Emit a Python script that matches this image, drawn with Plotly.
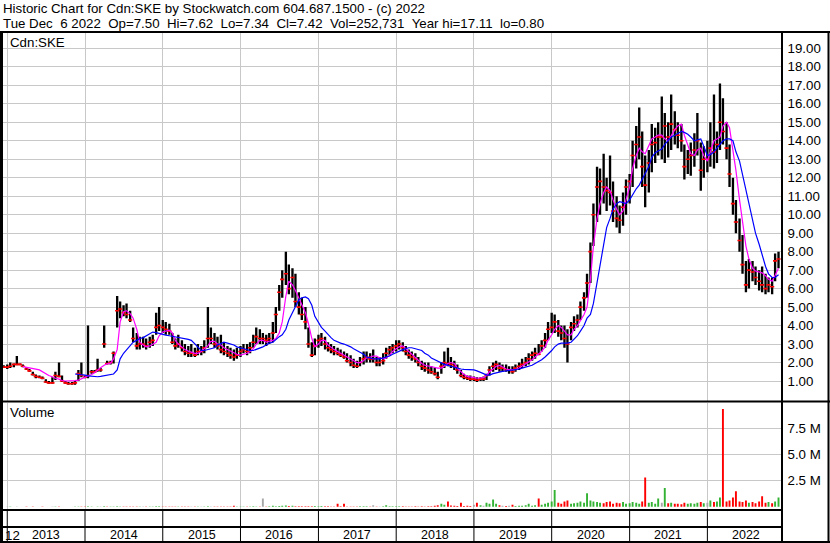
import plotly.graph_objects as go
import pandas as pd

W, H = 830, 543


def px(x):
    return x / W


def py(y):
    return 1 - y / H


# ---------------- data (semi-monthly samples, 1st & 15th) ----------------
# dates: 2012-12-15 ... 2022-12-01
dates = pd.date_range("2012-12-15", "2022-12-01", freq="SMS")

high = (
    [1.85]
    + [1.9, 2.0, 1.95, 2.35, 1.95, 1.9, 1.75, 1.65, 1.5, 1.35, 1.3, 1.25, 1.1, 1.0, 1.2, 1.5, 2.0, 1.3, 1.0, 0.95, 0.95, 1.0, 1.6, 2.0]
    + [1.3, 4.0, 1.6, 1.6, 2.2, 1.7, 4.0, 2.1, 2.1, 2.6, 5.6, 5.3, 5.1, 5.2, 4.8, 3.9, 3.6, 3.4, 3.4, 3.3, 3.4, 3.5, 4.7, 5.0]
    + [4.3, 4.2, 4.1, 3.6, 3.3, 3.5, 3.2, 3.0, 2.9, 3.0, 2.8, 3.0, 2.9, 3.2, 5.0, 3.9, 3.6, 3.4, 3.5, 3.1, 2.9, 2.8, 2.7, 2.8]
    + [2.9, 3.0, 3.0, 3.1, 3.5, 3.9, 3.8, 3.6, 3.5, 3.6, 4.2, 5.0, 6.2, 7.0, 8.0, 7.3, 7.1, 6.8, 5.8, 5.5, 5.0, 3.9, 3.1, 3.3]
    + [3.5, 3.6, 3.4, 3.1, 3.0, 2.9, 2.8, 2.7, 2.6, 2.5, 2.4, 2.2, 2.1, 2.3, 2.6, 2.6, 2.5, 2.7, 2.3, 2.3, 2.5, 2.8, 2.9, 3.0]
    + [3.2, 3.2, 3.1, 2.9, 2.7, 2.6, 2.5, 2.3, 2.1, 2.0, 2.0, 1.8, 1.7, 1.5, 2.0, 2.6, 2.8, 2.3, 2.1, 1.9, 1.6, 1.4, 1.3, 1.3]
    + [1.25, 1.2, 1.2, 1.25, 1.4, 1.8, 2.0, 2.1, 2.0, 1.9, 1.9, 1.8, 1.8, 1.9, 2.0, 2.2, 2.3, 2.5, 2.6, 2.8, 3.0, 3.2, 3.6, 4.2]
    + [4.7, 4.6, 4.3, 4.0, 4.0, 3.8, 4.2, 4.5, 4.6, 5.3, 5.8, 6.8, 8.5, 10.6, 12.6, 12.5, 13.3, 12.0, 13.2, 11.8, 11.0, 10.5, 11.2, 11.9]
    + [12.2, 14.0, 14.8, 15.8, 14.5, 13.2, 13.5, 14.9, 14.7, 15.0, 16.4, 15.5, 15.0, 16.5, 15.6, 15.0, 14.9, 13.8, 13.5, 13.9, 14.4, 15.5, 13.9, 13.7]
    + [14.0, 15.0, 16.5, 14.5, 17.1, 16.3, 15.0, 13.8, 12.0, 10.8, 9.8, 8.9, 7.5, 7.6, 7.5, 7.2, 7.0, 7.2, 6.8, 6.6, 6.6, 7.9, 8.0]
)

low = (
    [1.70]
    + [1.65, 1.7, 1.75, 1.85, 1.85, 1.75, 1.6, 1.5, 1.3, 1.15, 1.15, 1.1, 0.9, 0.85, 0.85, 1.05, 1.2, 0.95, 0.85, 0.8, 0.8, 0.8, 1.0, 1.2]
    + [1.15, 1.15, 1.4, 1.45, 1.5, 1.5, 2.8, 1.9, 1.9, 1.95, 3.9, 4.4, 4.5, 4.4, 4.2, 3.1, 2.7, 2.7, 2.8, 2.7, 2.8, 2.9, 3.5, 3.7]
    + [3.6, 3.5, 3.5, 3.0, 2.7, 2.8, 2.6, 2.4, 2.3, 2.3, 2.3, 2.4, 2.4, 2.5, 2.8, 3.0, 2.8, 2.7, 2.5, 2.4, 2.3, 2.2, 2.1, 2.2]
    + [2.3, 2.5, 2.4, 2.5, 2.8, 3.0, 3.0, 3.0, 2.9, 3.0, 3.1, 3.6, 4.8, 5.5, 6.2, 5.7, 5.5, 5.0, 4.6, 4.3, 3.8, 2.8, 2.3, 2.4]
    + [2.8, 2.9, 2.7, 2.6, 2.5, 2.4, 2.4, 2.3, 2.2, 2.0, 1.8, 1.7, 1.7, 1.8, 1.9, 2.0, 2.0, 2.0, 1.8, 1.8, 1.9, 2.2, 2.4, 2.5]
    + [2.6, 2.7, 2.6, 2.4, 2.2, 2.1, 2.0, 1.8, 1.6, 1.5, 1.4, 1.4, 1.3, 1.1, 1.4, 1.7, 1.8, 1.7, 1.6, 1.4, 1.2, 1.1, 1.05, 1.0]
    + [1.0, 0.95, 1.0, 1.0, 1.05, 1.3, 1.5, 1.6, 1.5, 1.5, 1.5, 1.4, 1.4, 1.5, 1.6, 1.7, 1.8, 1.9, 2.1, 2.2, 2.4, 2.6, 2.8, 3.2]
    + [3.6, 3.6, 3.4, 3.2, 2.8, 2.0, 3.2, 3.7, 3.9, 4.3, 4.8, 5.5, 6.3, 8.3, 9.6, 10.0, 10.6, 10.2, 10.5, 9.6, 9.3, 9.0, 9.4, 10.0]
    + [10.6, 11.5, 12.5, 13.0, 11.5, 10.4, 11.2, 12.3, 12.8, 13.2, 13.0, 12.8, 13.1, 13.5, 13.8, 13.6, 13.4, 11.9, 12.2, 12.1, 12.6, 13.2, 11.3, 12.0]
    + [12.3, 12.6, 12.5, 12.8, 13.5, 13.8, 13.0, 11.5, 10.0, 9.0, 8.0, 6.8, 5.8, 6.0, 6.4, 6.2, 5.9, 5.8, 5.7, 5.8, 5.7, 6.4, 7.1]
)

close = (
    [1.75]
    + [1.75, 1.8, 1.9, 1.9, 1.9, 1.8, 1.65, 1.55, 1.35, 1.25, 1.2, 1.15, 0.95, 0.9, 0.9, 1.3, 1.25, 1.0, 0.9, 0.85, 0.85, 0.9, 1.4, 1.3]
    + [1.2, 1.3, 1.5, 1.5, 1.6, 1.6, 3.0, 1.95, 2.0, 2.5, 4.8, 4.9, 4.7, 4.6, 4.3, 3.3, 2.9, 3.0, 3.0, 2.9, 3.1, 3.2, 3.9, 4.0]
    + [3.9, 3.8, 3.7, 3.1, 2.9, 3.0, 2.8, 2.6, 2.5, 2.5, 2.4, 2.6, 2.6, 2.8, 3.3, 3.3, 3.0, 2.9, 2.7, 2.6, 2.5, 2.4, 2.3, 2.4]
    + [2.6, 2.7, 2.6, 2.8, 3.1, 3.4, 3.3, 3.3, 3.2, 3.3, 3.6, 4.6, 5.8, 6.5, 6.8, 6.0, 6.6, 5.3, 5.0, 4.6, 4.2, 3.0, 2.4, 2.9]
    + [3.2, 3.3, 3.0, 2.8, 2.7, 2.6, 2.5, 2.4, 2.3, 2.1, 2.0, 1.85, 1.8, 2.0, 2.2, 2.3, 2.2, 2.2, 2.0, 2.0, 2.1, 2.5, 2.7, 2.8]
    + [2.9, 3.0, 2.8, 2.6, 2.4, 2.3, 2.2, 2.0, 1.8, 1.7, 1.6, 1.5, 1.4, 1.2, 1.8, 2.0, 1.95, 1.9, 1.8, 1.6, 1.3, 1.2, 1.15, 1.1]
    + [1.1, 1.05, 1.1, 1.1, 1.3, 1.6, 1.8, 1.9, 1.7, 1.7, 1.6, 1.6, 1.5, 1.7, 1.8, 1.9, 2.0, 2.2, 2.4, 2.5, 2.45, 2.9, 3.2, 3.8]
    + [3.9, 4.2, 3.7, 3.6, 3.3, 3.0, 3.9, 4.1, 4.3, 5.0, 5.5, 6.3, 8.0, 10.0, 11.5, 11.8, 11.5, 11.3, 11.2, 10.2, 9.8, 9.7, 10.4, 11.5]
    + [11.8, 13.2, 13.8, 14.2, 12.6, 11.6, 12.8, 13.8, 13.9, 14.2, 14.2, 14.8, 14.2, 14.9, 14.6, 14.3, 14.0, 12.6, 13.0, 13.2, 13.5, 14.0, 12.4, 13.0]
    + [13.0, 13.6, 13.4, 13.8, 15.0, 14.5, 13.6, 12.2, 10.6, 9.6, 8.6, 7.3, 6.2, 7.0, 6.9, 6.6, 6.4, 6.2, 6.0, 6.2, 6.1, 7.5, 7.6]
)

# short moving average (magenta)
ma_short = (
    [None]
    + [None, None, None, None, None, 1.78, 1.75, 1.72, 1.68, 1.64, 1.6, 1.5, 1.4, 1.3, 1.23, 1.15, 1.1, 1.03, 1.0, 1.0, 1.0, 1.02, 1.05, 1.12]
    + [1.2, 1.25, 1.35, 1.45, 1.6, 1.72, 1.85, 1.93, 1.97, 2.2, 2.7, 4.2, 4.75, 4.8, 4.65, 4.4, 3.8, 3.1, 2.95, 2.85, 2.9, 3.0, 3.1, 3.45]
    + [3.65, 3.7, 3.75, 3.6, 3.2, 3.0, 2.85, 2.7, 2.62, 2.55, 2.5, 2.5, 2.6, 2.75, 2.9, 3.15, 3.15, 3.0, 2.95, 2.8, 2.7, 2.6, 2.5, 2.45]
    + [2.4, 2.45, 2.5, 2.6, 2.75, 3.0, 3.2, 3.2, 3.1, 3.15, 3.2, 3.3, 3.6, 4.2, 5.6, 6.4, 6.2, 5.9, 5.5, 5.1, 4.7, 4.1, 3.3, 2.85]
    + [3.0, 3.2, 3.2, 2.95, 2.8, 2.7, 2.6, 2.5, 2.4, 2.3, 2.2, 2.1, 2.0, 2.0, 2.1, 2.25, 2.3, 2.35, 2.35, 2.25, 2.2, 2.25, 2.4, 2.6]
    + [2.75, 2.85, 2.9, 2.75, 2.6, 2.45, 2.3, 2.1, 1.95, 1.85, 1.8, 1.75, 1.72, 1.7, 1.7, 1.8, 1.95, 2.0, 1.95, 1.7, 1.5, 1.35, 1.25, 1.2]
    + [1.18, 1.15, 1.15, 1.18, 1.3, 1.5, 1.65, 1.8, 1.85, 1.75, 1.65, 1.62, 1.6, 1.62, 1.7, 1.8, 1.9, 2.0, 2.15, 2.3, 2.45, 2.6, 2.85, 3.2]
    + [3.5, 3.8, 4.0, 3.9, 3.7, 3.5, 3.5, 3.8, 4.0, 4.3, 4.6, 5.0, 6.5, 8.3, 9.8, 10.6, 11.2, 11.5, 11.3, 10.8, 10.3, 10.0, 10.2, 10.8]
    + [11.5, 12.5, 13.2, 13.6, 13.4, 13.3, 13.7, 14.1, 14.2, 14.3, 14.3, 14.1, 14.0, 14.3, 14.6, 14.8, 14.9, 14.3, 13.8, 13.3, 13.2, 13.5, 13.6, 13.2]
    + [12.9, 13.4, 14.0, 14.1, 14.2, 14.8, 15.0, 14.7, 13.6, 12.4, 10.8, 9.6, 8.3, 7.6, 7.1, 6.95, 6.9, 6.85, 6.7, 6.5, 6.4, 6.7, 7.1]
)

# long moving average (blue)
ma_long = (
    [None]
    + [None] * 21 + [1.38, 1.37, 1.35]
    + [1.32, 1.28, 1.25, 1.23, 1.23, 1.25, 1.28, 1.32, 1.35, 1.38, 1.6, 2.2, 2.5, 2.7, 2.9, 3.1, 3.2, 3.3, 3.35, 3.45, 3.55, 3.65, 3.62, 3.57]
    + [3.52, 3.48, 3.45, 3.42, 3.4, 3.38, 3.35, 3.3, 3.25, 3.2, 3.0, 2.8, 2.65, 2.65, 2.7, 2.75, 2.8, 2.95, 3.05, 3.1, 3.05, 3.0, 2.95, 2.85]
    + [2.8, 2.75, 2.7, 2.65, 2.65, 2.7, 2.8, 2.85, 2.95, 3.05, 3.1, 3.25, 3.4, 3.5, 3.8, 4.3, 4.7, 5.0, 5.4, 5.5, 5.55, 5.45, 5.1, 4.5]
    + [4.2, 3.9, 3.7, 3.5, 3.35, 3.2, 3.1, 3.05, 3.0, 2.95, 2.85, 2.75, 2.65, 2.55, 2.45, 2.3, 2.25, 2.2, 2.2, 2.2, 2.25, 2.3, 2.35, 2.45]
    + [2.55, 2.6, 2.7, 2.75, 2.8, 2.8, 2.75, 2.72, 2.65, 2.5, 2.4, 2.25, 2.15, 2.05, 1.95, 1.9, 1.85, 1.8, 1.75, 1.7, 1.65, 1.63, 1.62, 1.6]
    + [1.6, 1.55, 1.48, 1.4, 1.32, 1.32, 1.4, 1.45, 1.5, 1.52, 1.55, 1.57, 1.6, 1.62, 1.65, 1.7, 1.75, 1.8, 1.85, 1.95, 2.05, 2.15, 2.3, 2.45]
    + [2.65, 2.85, 3.0, 3.05, 3.05, 3.05, 3.1, 3.25, 3.45, 3.7, 4.0, 4.4, 4.6, 5.2, 6.3, 7.3, 8.4, 9.3, 9.8, 10.3, 10.6, 10.7, 10.65, 10.6]
    + [10.8, 11.1, 11.4, 11.6, 11.9, 12.2, 12.6, 13.1, 13.35, 13.45, 13.55, 13.8, 14.0, 14.2, 14.3, 14.4, 14.5, 14.45, 14.35, 14.2, 14.0, 14.05, 14.1, 13.7]
    + [13.2, 13.25, 13.4, 13.6, 13.8, 14.0, 14.1, 14.1, 14.0, 13.4, 12.9, 12.2, 11.4, 10.6, 9.8, 9.0, 8.4, 7.8, 7.2, 6.8, 6.6, 6.6, 6.75]
)

# volume, millions of shares
volume_m = (
    [0.01]
    + [0.02, 0.02, 0.01, 0.03, 0.01, 0.01, 0.02, 0.01, 0.02, 0.01, 0.01, 0.02, 0.01, 0.01, 0.02, 0.03, 0.03, 0.01, 0.01, 0.01, 0.01, 0.02, 0.03, 0.03]
    + [0.02, 0.05, 0.02, 0.01, 0.03, 0.02, 0.05, 0.02, 0.02, 0.03, 0.06, 0.04, 0.03, 0.03, 0.03, 0.04, 0.03, 0.02, 0.02, 0.02, 0.02, 0.03, 0.05, 0.05]
    + [0.03, 0.03, 0.02, 0.03, 0.03, 0.02, 0.02, 0.03, 0.02, 0.02, 0.02, 0.02, 0.02, 0.03, 0.06, 0.03, 0.03, 0.02, 0.03, 0.02, 0.02, 0.03, 0.1, 0.03]
    + [0.03, 0.03, 0.03, 0.04, 0.05, 0.04, 0.04, 0.8, 0.04, 0.05, 0.1, 0.06, 0.08, 0.1, 0.12, 0.08, 0.1, 0.06, 0.05, 0.05, 0.05, 0.06, 0.05, 0.08]
    + [0.06, 0.08, 0.05, 0.05, 0.04, 0.04, 0.3, 0.05, 0.3, 0.04, 0.04, 0.03, 0.03, 0.05, 0.06, 0.05, 0.04, 0.15, 0.04, 0.04, 0.05, 0.15, 0.06, 0.05]
    + [0.06, 0.05, 0.05, 0.04, 0.04, 0.04, 0.05, 0.04, 0.05, 0.04, 0.05, 0.05, 0.1, 0.15, 0.3, 0.2, 0.5, 0.12, 0.1, 0.08, 0.4, 0.08, 0.1, 0.08]
    + [0.2, 0.4, 0.15, 0.1, 0.4, 0.3, 0.7, 0.3, 0.15, 0.1, 0.08, 0.1, 0.2, 0.08, 0.1, 0.1, 0.15, 0.3, 0.1, 0.15, 0.8, 0.2, 0.3, 0.4]
    + [0.5, 1.6, 0.4, 0.3, 0.5, 0.6, 0.3, 0.35, 0.4, 0.5, 0.4, 1.3, 0.6, 0.5, 0.45, 0.4, 0.35, 0.45, 0.5, 0.3, 0.4, 0.35, 0.45, 0.3]
    + [0.35, 0.45, 0.4, 0.3, 0.5, 2.8, 0.4, 0.45, 0.3, 0.8, 0.4, 1.8, 0.35, 0.4, 0.3, 0.3, 0.25, 0.4, 0.3, 0.35, 0.3, 0.4, 0.45, 0.35]
    + [0.4, 0.6, 0.45, 0.5, 0.9, 9.36, 0.5, 0.6, 0.9, 1.5, 0.5, 0.45, 0.6, 0.4, 0.45, 0.35, 0.5, 1.0, 0.4, 0.45, 0.35, 0.5, 0.9]
)

years = [2013, 2014, 2015, 2016, 2017, 2018, 2019, 2020, 2021, 2022]
price_ticks = list(range(1, 20))
price_tick_text = [f"{v:.2f}" for v in price_ticks]
vol_ticks_m = [2.5, 5.0, 7.5]
vol_tick_text = ["2.5 M", "5.0 M", "7.5 M"]

title_1 = "Historic Chart for Cdn:SKE by Stockwatch.com 604.687.1500 - (c) 2022"
title_2 = ("Tue Dec  6 2022  Op=7.50  Hi=7.62  Lo=7.34  Cl=7.42  "
           "Vol=252,731  Year hi=17.11  lo=0.80")
symbol_label = "Cdn:SKE"
volume_label = "Volume"

n = len(dates)
assert all(len(a) == n for a in (high, low, close, ma_short, ma_long, volume_m)), n

# ---------------- styling ----------------
FONT = "Liberation Sans, Arial, sans-serif"
GRID = "#c8c8c8"
DAY = 86400000
x_start, x_end = "2012-12-12", "2022-12-15"

vol_colors = []
for i, c in enumerate(close):
    prev = close[i - 1] if i > 0 else c
    if c > prev:
        vol_colors.append("#33b233")
    elif c < prev:
        vol_colors.append("#ff0000")
    else:
        vol_colors.append("#a8a8a8")

fig = go.Figure()

fig.add_trace(go.Bar(
    x=dates, y=[h - l for h, l in zip(high, low)], base=low,
    width=11 * DAY, marker=dict(color="black", line=dict(width=0)),
    xaxis="x", yaxis="y", hoverinfo="skip"))
fig.add_trace(go.Scatter(
    x=dates, y=close, mode="markers",
    marker=dict(symbol="line-ew", size=3, line=dict(color="#ff0000", width=1.6)),
    xaxis="x", yaxis="y", hoverinfo="skip"))
fig.add_trace(go.Scatter(
    x=dates, y=ma_short, mode="lines", line=dict(color="#ff00ff", width=1.2),
    xaxis="x", yaxis="y", hoverinfo="skip"))
fig.add_trace(go.Scatter(
    x=dates, y=ma_long, mode="lines", line=dict(color="#0000ff", width=1.2),
    xaxis="x", yaxis="y", hoverinfo="skip"))
fig.add_trace(go.Bar(
    x=dates, y=[v * 1e6 for v in volume_m], width=9 * DAY,
    marker=dict(color=vol_colors, line=dict(width=0)),
    xaxis="x2", yaxis="y2", hoverinfo="skip"))

year_ticks = [f"{y}-01-01" for y in years]
xcommon = dict(type="date", range=[x_start, x_end], domain=[px(3), px(781.5)],
               showgrid=True, gridcolor=GRID, gridwidth=1, tickvals=year_ticks,
               showticklabels=False, ticks="", zeroline=False, showline=False)

fig.update_layout(
    width=W, height=H, autosize=False,
    margin=dict(l=0, r=0, t=0, b=0),
    paper_bgcolor="white", plot_bgcolor="white",
    showlegend=False, barmode="overlay",
    font=dict(family=FONT, color="black", size=13),
    xaxis=dict(anchor="y", **xcommon),
    xaxis2=dict(anchor="y2", matches="x", **xcommon),
    yaxis=dict(domain=[py(400.5), py(33)], range=[-0.054, 19.83], anchor="x",
               side="right", tickvals=price_ticks, ticktext=price_tick_text,
               showgrid=True, gridcolor=GRID, ticks="", zeroline=False,
               tickfont=dict(family=FONT, size=13.3, color="black"),
               ticklabelstandoff=5),
    yaxis2=dict(domain=[py(508.5), py(403)], range=[-0.16e6, 9.93e6], anchor="x2",
                side="right", tickvals=[v * 1e6 for v in vol_ticks_m], ticktext=vol_tick_text,
                showgrid=True, gridcolor=GRID, ticks="", zeroline=False,
                tickfont=dict(family=FONT, size=13.3, color="black"),
                ticklabelstandoff=5),
)

shapes = []


def hline(y, x0, x1, w=2):
    shapes.append(dict(type="line", xref="paper", yref="paper",
                       x0=px(x0), x1=px(x1), y0=py(y), y1=py(y),
                       line=dict(color="black", width=w)))


def vline(x, y0, y1, w=2):
    shapes.append(dict(type="line", xref="paper", yref="paper",
                       x0=px(x), x1=px(x), y0=py(y0), y1=py(y1),
                       line=dict(color="black", width=w)))


hline(32, 0, 830)
hline(401.5, 0, 830)
hline(510, 0, 782)
hline(527, 0, 782)
hline(542, 0, 830)
vline(1.5, 31, 543, 3)
vline(782, 31, 543, 2)
vline(828.5, 31, 543, 2)
for yt in year_ticks:
    shapes.append(dict(type="line", xref="x", yref="paper", x0=yt, x1=yt,
                       y0=py(511), y1=py(541), line=dict(color="black", width=1)))
fig.update_layout(shapes=shapes)

NB = "\u00a0"
ann = [
    dict(text=title_1, x=px(1), y=py(9)),
    dict(text=title_2.replace("  ", NB + NB), x=px(1), y=py(23)),
    dict(text=symbol_label, x=px(8), y=py(42)),
    dict(text=volume_label, x=px(8), y=py(413)),
    dict(text="12", x=px(3), y=py(535)),
]
annotations = []
for a in ann:
    annotations.append(dict(xref="paper", yref="paper", xanchor="left", yanchor="middle",
                            showarrow=False, font=dict(family=FONT, size=13.3, color="black"),
                            **a))
for y in years:
    annotations.append(dict(text=str(y), xref="x", yref="paper", x=f"{y}-07-02", y=py(535),
                            xanchor="center", yanchor="middle", showarrow=False,
                            font=dict(family=FONT, size=12.5, color="black")))
fig.update_layout(annotations=annotations)

fig.write_html("out.html", config={"displayModeBar": False, "staticPlot": True},
               post_script="document.body.style.margin='0';")
